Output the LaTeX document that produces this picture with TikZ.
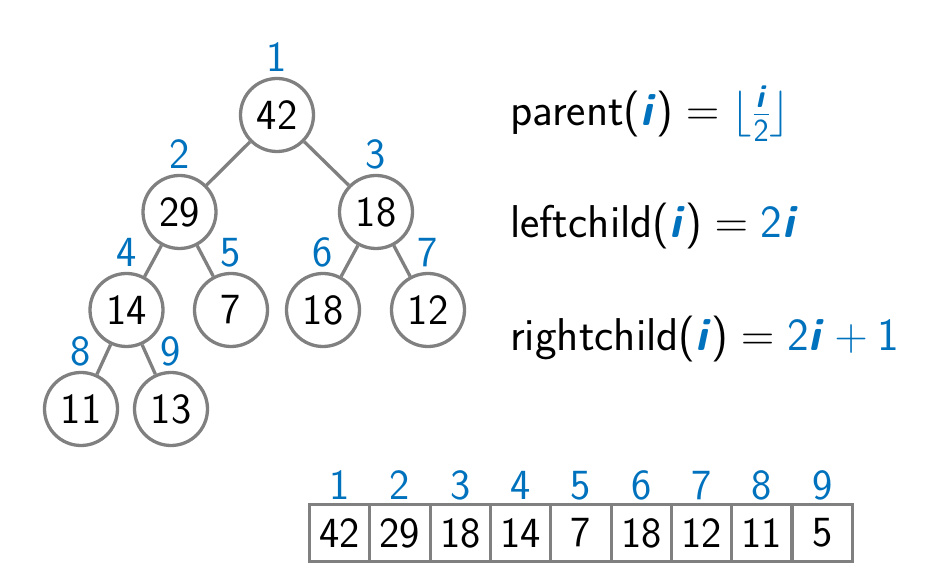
\RequirePackage{fix-cm}
\documentclass[tikz,border=0pt]{standalone}
\usepackage{amsmath}
\usepackage{fontspec}
\definecolor{hblue}{RGB}{0,114,189}
\definecolor{hgray}{RGB}{128,128,128}
\newcommand{\bigfs}{\fontsize{43}{52}\selectfont\sffamily}
\newcommand{\formfs}{\fontsize{46}{55}\selectfont\sffamily}
\newcommand{\bi}{\textbf{\textit{i}}}
\newcommand{\hi}{\textcolor{hblue}{\bi}}
\tikzset{
  hnode/.style={circle, draw=hgray, line width=3.3pt, minimum size=73pt, inner sep=0pt, font=\bigfs, text=black},
  edge/.style={draw=hgray, line width=3.3pt},
  idx/.style={font=\bigfs, text=hblue, anchor=base, inner sep=0pt},
  cell/.style={rectangle, draw=hgray, line width=3.3pt, minimum width=60.33pt, minimum height=57pt, inner sep=0pt, font=\bigfs, text=black},
  formula/.style={font=\formfs, anchor=base west, inner sep=0pt, text=black}
}
\begin{document}
\begin{tikzpicture}[x=1pt,y=1pt]
\useasboundingbox (0,0) rectangle (930,578);
% tree nodes
\node[hnode] (n1) at (277,463) {42};
\node[hnode] (n2) at (179.5,366) {29};
\node[hnode] (n3) at (376,366) {18};
\node[hnode] (n4) at (126.5,268) {14};
\node[hnode] (n5) at (231,268) {7};
\node[hnode] (n6) at (323,268) {18};
\node[hnode] (n7) at (428,268) {12};
\node[hnode] (n8) at (81,169) {11};
\node[hnode] (n9) at (171,169) {13};
% edges
\draw[edge] (n1) -- (n2);
\draw[edge] (n1) -- (n3);
\draw[edge] (n2) -- (n4);
\draw[edge] (n2) -- (n5);
\draw[edge] (n3) -- (n6);
\draw[edge] (n3) -- (n7);
\draw[edge] (n4) -- (n8);
\draw[edge] (n4) -- (n9);
% index labels
\foreach \k in {1,...,9} {
  \node[idx] (l\k) at ([yshift=5.5pt]n\k.north) {\k};
}
% formulas
\node[formula] (f1) at (510,452) {parent(\hi)${}={}$\textcolor{hblue}{$\lfloor\frac{\bi}{\textsf{2}}\rfloor$}};
\node[formula] (f2) at (510,340) {leftchild(\hi)${}={}$\textcolor{hblue}{2\bi}};
\node[formula] (f3) at (510,227) {rightchild(\hi)${}={}$\textcolor{hblue}{2\bi${}+{}$1}};
% array
\foreach \v [count=\k] in {42,29,18,14,7,18,12,11,5} {
  \node[cell] (a\k) at ({309.5+60.33*(\k-0.5)},45) {\v};
  \node[idx] (b\k) at ({309.5+60.33*(\k-0.5)},78) {\k};
}
\end{tikzpicture}
\end{document}
